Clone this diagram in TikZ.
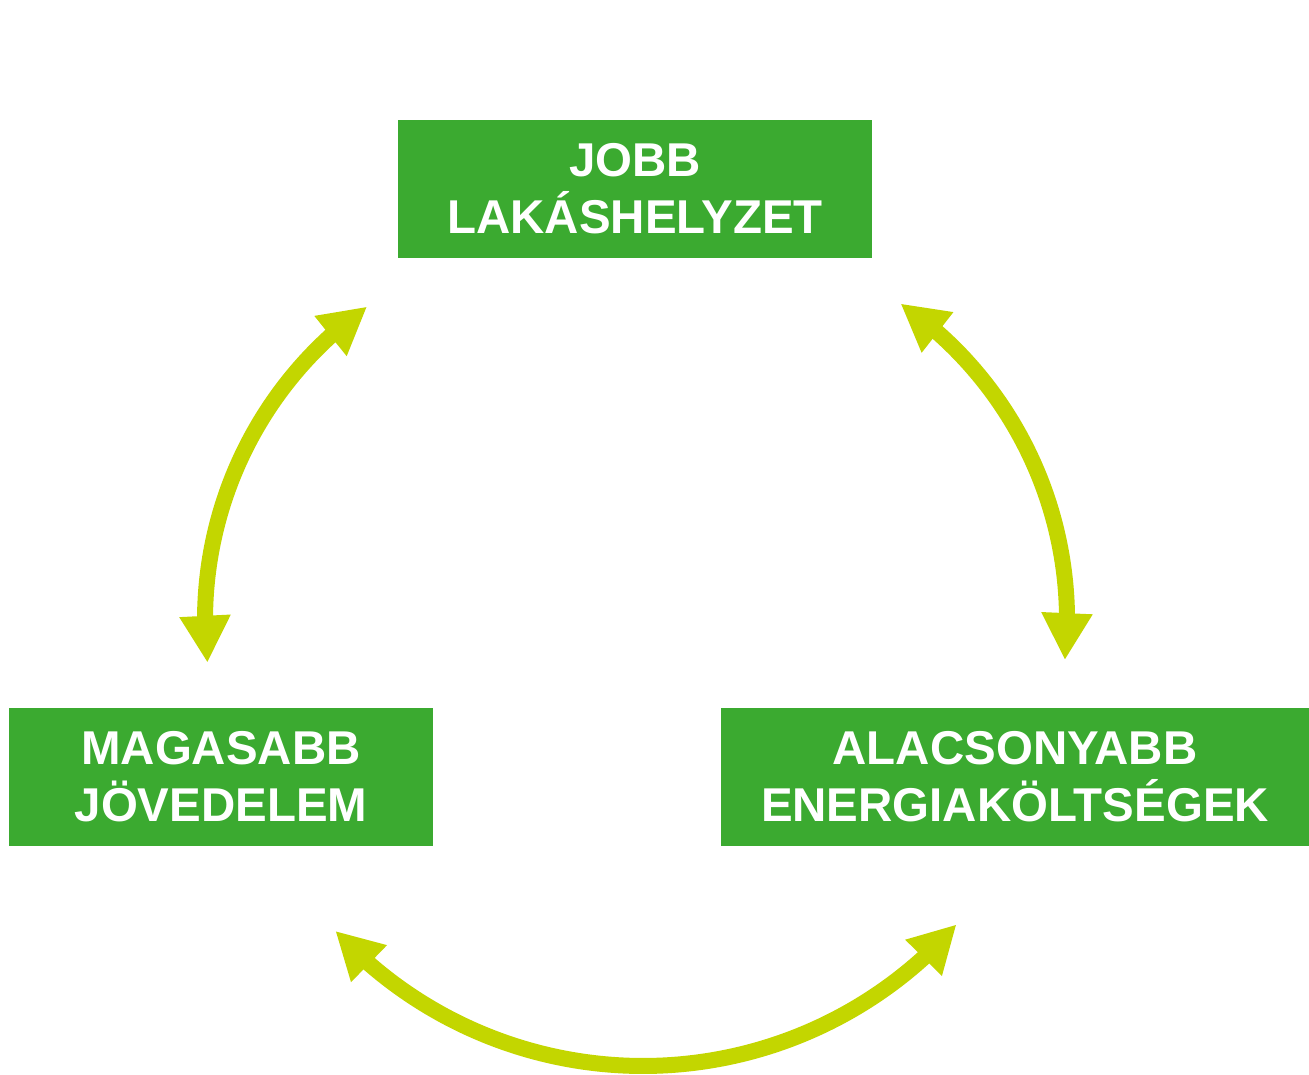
\documentclass[tikz,border=0pt]{standalone}
\usepackage{fontspec}
\setmainfont{Liberation Sans}
\usetikzlibrary{arrows.meta,bending}

\definecolor{boxgreen}{RGB}{59,170,48}
\definecolor{arrowlime}{RGB}{195,214,0}

\begin{document}
\begin{tikzpicture}[
    box/.style={fill=boxgreen, text=white, align=center, inner sep=0pt,
        minimum height=1.38cm, font=\fontsize{13.5}{16.2}\selectfont\bfseries},
    cyclearrow/.style={arrowlime, line width=1.6mm, <->,
        >={Triangle[length=4.7mm, width=4.8mm]}}
]
    \useasboundingbox (0,0) rectangle (13.09,10.75);

    % The three boxes
    \node[box, minimum width=4.74cm] (housing) at (6.35,8.86) {JOBB\\LAKÁSHELYZET};
    \node[box, minimum width=4.24cm] (income) at (2.21,2.98) {MAGASABB\\JÖVEDELEM};
    \node[box, minimum width=5.88cm] (energy) at (10.15,2.98) {ALACSONYABB\\ENERGIAKÖLTSÉGEK};

    % Left: income <-> housing
    \coordinate (leftstart) at ([shift={(186.4:3.84)}]5.89,4.55);
    \draw[cyclearrow] (leftstart) arc[start angle=186.4, end angle=125.3, radius=3.84];

    % Right: housing <-> energy
    \coordinate (rightstart) at ([shift={(55.5:3.84)}]6.83,4.55);
    \draw[cyclearrow] (rightstart) arc[start angle=55.5, end angle=-6, radius=3.84];

    % Bottom: income <-> energy
    \coordinate (bottomstart) at ([shift={(222.6:4.18)}]6.43,4.27);
    \draw[cyclearrow] (bottomstart) arc[start angle=222.6, end angle=318.6, radius=4.18];
\end{tikzpicture}
\end{document}
